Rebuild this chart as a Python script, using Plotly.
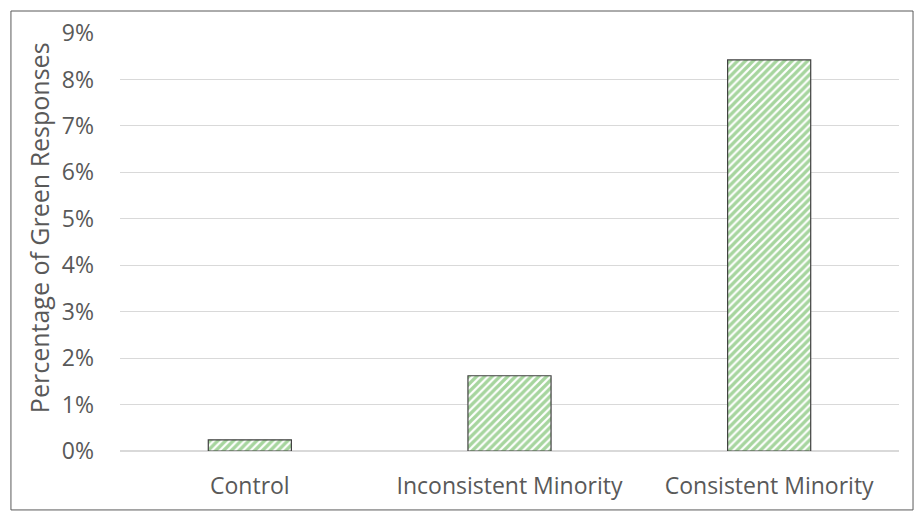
import plotly.graph_objects as go

categories = ['Control', 'Inconsistent Minority', 'Consistent Minority']
green_pct = [0.24, 1.62, 8.42]
tick_vals = list(range(0, 10))
tick_text = ['%d%%' % v for v in tick_vals]
y_title = 'Percentage of Green Responses'

fig = go.Figure()
fig.add_trace(go.Bar(
    x=categories, y=green_pct,
    marker=dict(
        color='white',
        line=dict(color='#404040', width=1.2),
        pattern=dict(shape='/', fgcolor='#4eab3e', bgcolor='white', size=5.5, solidity=0.6),
    ),
    width=0.32,
))

# the page body has an 8px margin, so the margins are shifted to compensate
fig.update_layout(
    width=924, height=520,
    margin=dict(l=112, r=33, t=25, b=77, autoexpand=False),
    paper_bgcolor='white', plot_bgcolor='white',
    font=dict(family='Open Sans, sans-serif', color='#595959', size=23),
    showlegend=False,
    shapes=[dict(type='rect', xref='paper', yref='paper',
                 x0=-0.14, x1=1.018, y0=-0.141, y1=1.0526,
                 line=dict(color='#595959', width=1))],
    annotations=[dict(text=y_title, xref='paper', yref='paper', x=-0.103, y=0.535,
                      textangle=-90, showarrow=False, font=dict(size=25),
                      xanchor='center', yanchor='middle')],
)
fig.update_yaxes(
    range=[0, 9], tickvals=tick_vals, ticktext=tick_text,
    showgrid=True, gridcolor='#d9d9d9', gridwidth=1,
    zeroline=True, zerolinecolor='#d9d9d9', showline=False,
    ticks='', ticklabelstandoff=25, automargin=False,
)
fig.update_xaxes(showline=False, ticks='', ticklabelstandoff=19, automargin=False)

fig.write_html('out.html')
